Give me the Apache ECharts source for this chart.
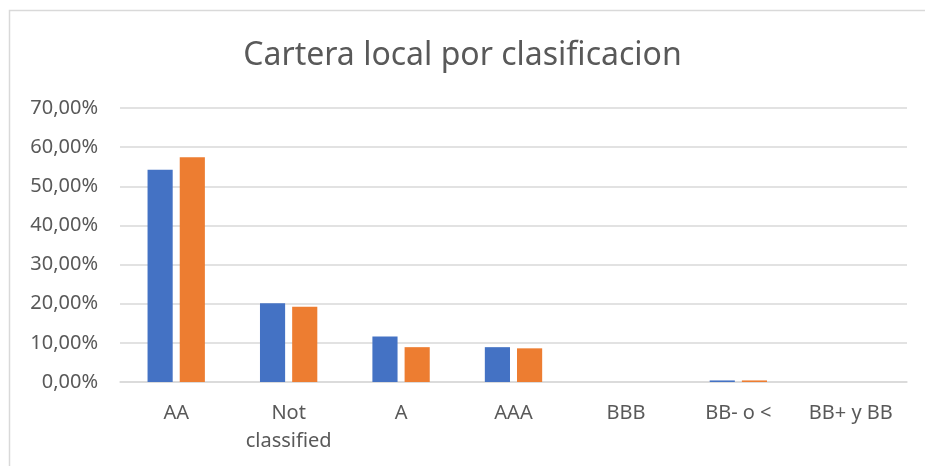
<!DOCTYPE html>
<html>
<head>
<meta charset="utf-8">
<script src="https://cdn.jsdelivr.net/npm/echarts@6/dist/echarts.min.js"></script>
<style>
  html, body { margin: 0; padding: 0; background: #fff; }
  #chart { width: 925px; height: 466px; }
</style>
</head>
<body>
<div id="chart"></div>
<script>
// datos
const categories = ['AA', 'Not\nclassified', 'A', 'AAA', 'BBB', 'BB- o <', 'BB+ y BB']
const serie1 = [54.2, 20.1, 11.6, 8.9, 0, 0.4, 0]
const serie2 = [57.4, 19.2, 8.9, 8.6, 0, 0.4, 0]
const yTicks = [0, 10, 20, 30, 40, 50, 60, 70]

const textColor = '#595959'
const lineColor = '#d9d9d9'
const font = 'Noto Sans'

let chart = echarts.init(document.getElementById('chart'))
let option = {
    animation: false,
    title: {
        text: 'Cartera local por clasificacion',
        left: 'center',
        top: 35,
        textStyle: {
            fontFamily: font,
            fontSize: 32,
            fontWeight: 'normal',
            color: textColor
        }
    },
    graphic: [{
        type: 'rect',
        shape: { x: 9.5, y: 10.5, width: 1000, height: 1000 },
        style: { fill: 'none', stroke: lineColor, lineWidth: 1.5 },
        silent: true
    }],
    grid: {
        left: 120,
        right: 18,
        top: 108,
        bottom: 84
    },
    xAxis: {
        type: 'category',
        data: categories,
        axisTick: { show: false },
        axisLine: { lineStyle: { color: lineColor, width: 1.5 } },
        axisLabel: {
            color: textColor,
            fontFamily: font,
            fontSize: 20,
            lineHeight: 28,
            margin: 17,
            interval: 0
        }
    },
    yAxis: {
        type: 'value',
        min: yTicks[0],
        max: yTicks[yTicks.length - 1],
        interval: 10,
        axisLine: { show: false },
        axisTick: { show: false },
        splitLine: { lineStyle: { color: lineColor, width: 1.5 } },
        axisLabel: {
            color: textColor,
            fontFamily: font,
            fontSize: 20,
            margin: 22,
            formatter: v => v.toFixed(2).replace('.', ',') + '%'
        }
    },
    series: [{
        type: 'bar',
        data: serie1,
        barGap: '28%',
        barCategoryGap: '49%',
        itemStyle: { color: '#4472C4' }
    }, {
        type: 'bar',
        data: serie2,
        itemStyle: { color: '#ED7D31' }
    }]
}
chart.setOption(option)
</script>
</body>
</html>
